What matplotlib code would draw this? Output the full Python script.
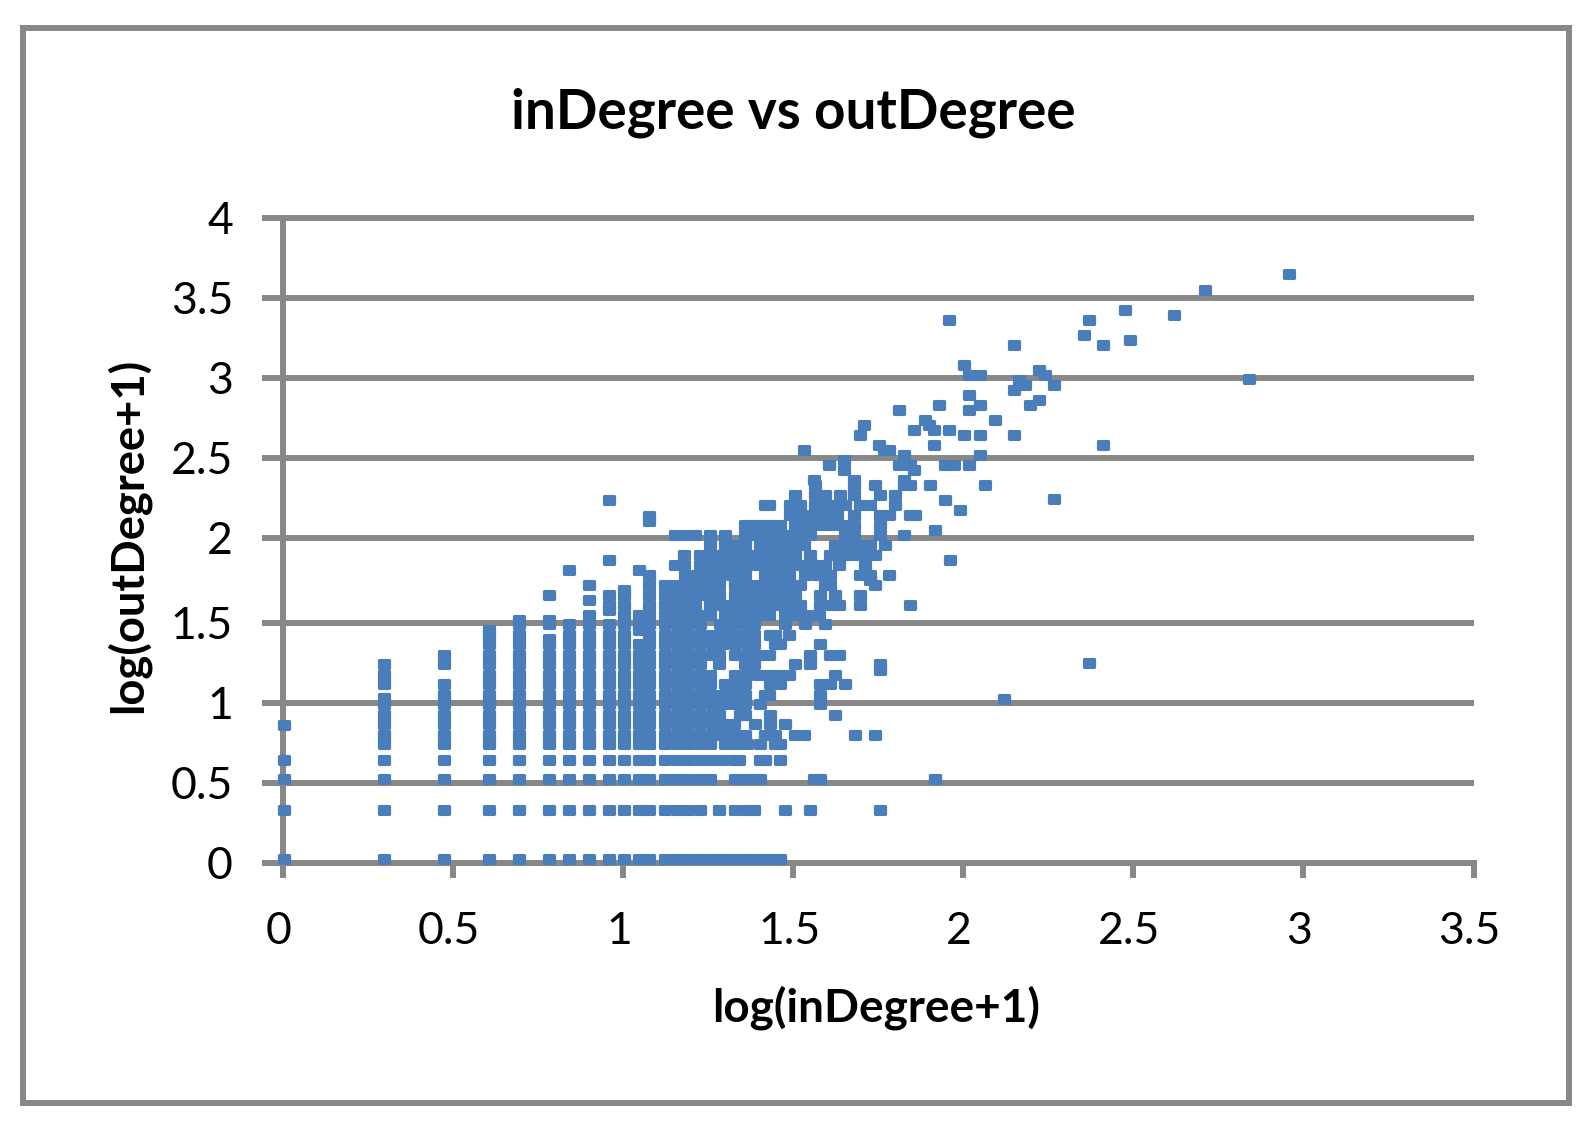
import numpy as np
import matplotlib
matplotlib.use("Agg")
import matplotlib.pyplot as plt
from matplotlib.path import Path
from matplotlib.patches import Rectangle
from matplotlib.transforms import ScaledTranslation

W, H = 1587, 1128
TITLE = "inDegree vs outDegree"
X_LABEL = "log(inDegree+1)"
Y_LABEL = "log(outDegree+1)"
x_ticks = [0, 0.5, 1, 1.5, 2, 2.5, 3, 3.5]
x_tick_labels = ["0", "0.5", "1", "1.5", "2", "2.5", "3", "3.5"]
y_ticks = [0, 0.5, 1, 1.5, 2, 2.5, 3, 3.5, 4]
y_tick_labels = ["0", "0.5", "1", "1.5", "2", "2.5", "3", "3.5", "4"]

# vertical columns at low inDegree: (x, y values)
col_x = [0.003, 0.297, 0.474, 0.606, 0.694, 0.782, 0.841, 0.9, 0.959, 1.003, 1.047, 1.076]
col_y = [
    [0.02, 0.33, 0.52, 0.64, 0.86],
    [0.02, 0.33, 0.52, 0.64, 0.738, 0.8, 0.863, 0.925, 0.988, 1.03, 1.113, 1.175, 1.238],
    [0.02, 0.33, 0.52, 0.64, 0.738, 0.8, 0.863, 0.925, 0.988, 1.05, 1.113, 1.238, 1.3],
    [0.02, 0.33, 0.52, 0.64, 0.738, 0.8, 0.863, 0.925, 0.988, 1.05, 1.113, 1.175, 1.238, 1.3, 1.363, 1.425, 1.456],
    [0.02, 0.33, 0.52, 0.64, 0.738, 0.8, 0.863, 0.925, 0.988, 1.05, 1.113, 1.175, 1.238, 1.3, 1.363, 1.425, 1.488, 1.514],
    [0.02, 0.33, 0.52, 0.64, 0.738, 0.8, 0.863, 0.925, 0.988, 1.05, 1.113, 1.175, 1.238, 1.3, 1.363, 1.394, 1.488, 1.514, 1.662],
    [0.02, 0.33, 0.52, 0.64, 0.738, 0.8, 0.863, 0.925, 0.988, 1.05, 1.113, 1.175, 1.238, 1.3, 1.363, 1.425, 1.488, 1.809],
    [0.02, 0.33, 0.52, 0.64, 0.738, 0.8, 0.863, 0.925, 0.988, 1.05, 1.113, 1.175, 1.238, 1.3, 1.363, 1.425, 1.488, 1.544, 1.632, 1.72],
    [0.02, 0.33, 0.52, 0.64, 0.738, 0.8, 0.863, 0.925, 0.988, 1.05, 1.113, 1.175, 1.238, 1.3, 1.363, 1.425, 1.488, 1.573, 1.603, 1.662, 1.867, 2.234],
    [0.02, 0.33, 0.52, 0.64, 0.738, 0.8, 0.863, 0.925, 0.988, 1.05, 1.113, 1.175, 1.238, 1.3, 1.363, 1.425, 1.488, 1.544, 1.603, 1.662, 1.691],
    [0.02, 0.33, 0.52, 0.64, 0.738, 0.8, 0.863, 0.925, 0.988, 1.05, 1.113, 1.175, 1.238, 1.3, 1.363, 1.456, 1.488, 1.544, 1.809],
    [0.02, 0.33, 0.52, 0.64, 0.738, 0.8, 0.863, 0.925, 0.988, 1.05, 1.113, 1.175, 1.238, 1.3, 1.363, 1.425, 1.488, 1.544, 1.603, 1.662, 1.72, 1.779, 2.103, 2.132],
]

# horizontal rows of the dense body: (y, x values)
row_y = [0.02, 0.33, 0.52, 0.64, 0.738, 0.8, 0.863, 0.925, 0.988, 1.05, 1.113, 1.175, 1.238, 1.3,
         1.363, 1.425, 1.488, 1.544, 1.603, 1.662, 1.72, 1.779, 1.838, 1.897, 1.956, 2.015, 2.078,
         2.14, 2.203, 2.265, 2.328]
row_x = [
    [1.124, 1.158, 1.192, 1.226, 1.261, 1.295, 1.329, 1.364, 1.398, 1.432, 1.46],
    [1.124, 1.158, 1.192, 1.225, 1.283, 1.329, 1.364, 1.386, 1.476, 1.548, 1.754],
    [1.124, 1.158, 1.192, 1.226, 1.254, 1.329, 1.357, 1.388, 1.403, 1.562, 1.579, 1.917],
    [1.124, 1.158, 1.192, 1.226, 1.261, 1.295, 1.329, 1.342, 1.403, 1.418, 1.46],
    [1.124, 1.158, 1.192, 1.226, 1.254, 1.3, 1.329, 1.364, 1.401, 1.447, 1.46],
    [1.124, 1.158, 1.192, 1.226, 1.261, 1.295, 1.329, 1.357, 1.418, 1.445, 1.506, 1.533, 1.682, 1.741],
    [1.124, 1.158, 1.192, 1.226, 1.261, 1.295, 1.327, 1.388, 1.432, 1.476],
    [1.124, 1.158, 1.192, 1.226, 1.261, 1.283, 1.344, 1.357, 1.432, 1.624],
    [1.124, 1.158, 1.192, 1.226, 1.261, 1.295, 1.329, 1.357, 1.403, 1.579],
    [1.124, 1.158, 1.192, 1.226, 1.261, 1.295, 1.329, 1.357, 1.418, 1.43, 1.579],
    [1.124, 1.158, 1.192, 1.226, 1.254, 1.3, 1.329, 1.357, 1.432, 1.46, 1.579, 1.609, 1.651],
    [1.124, 1.158, 1.192, 1.226, 1.254, 1.329, 1.364, 1.398, 1.432, 1.467, 1.489, 1.622],
    [1.124, 1.158, 1.192, 1.225, 1.283, 1.359, 1.386, 1.506, 1.548, 1.754],
    [1.124, 1.158, 1.192, 1.226, 1.261, 1.283, 1.329, 1.364, 1.398, 1.43, 1.548, 1.609, 1.636],
    [1.124, 1.158, 1.192, 1.226, 1.261, 1.295, 1.329, 1.364, 1.386, 1.447, 1.46, 1.579],
    [1.124, 1.158, 1.192, 1.226, 1.261, 1.295, 1.329, 1.364, 1.386, 1.432, 1.445, 1.489],
    [1.124, 1.158, 1.192, 1.225, 1.285, 1.32, 1.354, 1.386, 1.475, 1.535, 1.592],
    [1.124, 1.158, 1.192, 1.226, 1.254, 1.3, 1.329, 1.364, 1.398, 1.43, 1.476, 1.511, 1.545, 1.577],
    [1.124, 1.158, 1.192, 1.212, 1.256, 1.29, 1.325, 1.359, 1.393, 1.427, 1.462, 1.496, 1.519, 1.579, 1.614, 1.636, 1.695, 1.842],
    [1.124, 1.158, 1.192, 1.226, 1.261, 1.283, 1.329, 1.364, 1.398, 1.432, 1.467, 1.504, 1.579, 1.622, 1.695],
    [1.124, 1.158, 1.192, 1.226, 1.261, 1.283, 1.329, 1.364, 1.398, 1.432, 1.467, 1.501, 1.519, 1.594, 1.607, 1.739],
    [1.182, 1.217, 1.251, 1.285, 1.32, 1.357, 1.418, 1.452, 1.489, 1.535, 1.57, 1.607, 1.695, 1.725, 1.783],
    [1.153, 1.18, 1.226, 1.261, 1.295, 1.329, 1.364, 1.398, 1.432, 1.467, 1.501, 1.535, 1.57, 1.592, 1.636, 1.71],
    [1.18, 1.226, 1.261, 1.295, 1.329, 1.364, 1.398, 1.432, 1.467, 1.504, 1.548, 1.609, 1.643, 1.677, 1.712, 1.739],
    [1.254, 1.3, 1.329, 1.357, 1.403, 1.437, 1.472, 1.506, 1.533, 1.624, 1.658, 1.692, 1.726, 1.769],
    [1.153, 1.18, 1.212, 1.254, 1.298, 1.359, 1.393, 1.427, 1.462, 1.496, 1.53, 1.548, 1.653, 1.68, 1.754, 1.827],
    [1.357, 1.386, 1.408, 1.432, 1.46, 1.506, 1.54, 1.575, 1.609, 1.643, 1.68, 1.754],
    [1.491, 1.525, 1.56, 1.594, 1.628, 1.68, 1.754, 1.783, 1.842, 1.857],
    [1.418, 1.43, 1.491, 1.519, 1.565, 1.599, 1.633, 1.651, 1.697, 1.725, 1.8],
    [1.506, 1.565, 1.592, 1.638, 1.68, 1.754, 1.798],
    [1.565, 1.68, 1.739, 1.827, 1.842, 1.901, 2.063],
]

# scattered points at the upper right and the outliers
extra_x = [1.959, 2.371, 2.356, 2.15, 2.41, 2.003, 2.018, 2.048, 2.224, 2.239, 2.165, 2.18, 2.15, 2.268,
           2.018, 2.048, 2.018, 1.93, 1.812, 2.224, 2.195, 2.092, 1.886, 1.9, 1.915, 1.856, 1.959,
           2.003, 2.048, 2.15, 1.709, 1.695, 1.753, 1.768, 1.783, 1.915, 2.41, 1.533, 1.827, 2.048,
           1.65, 1.606, 1.65, 1.812, 1.842, 1.856, 1.945, 1.974, 2.018, 1.562, 1.68, 1.827,
           2.957, 2.71, 2.474, 2.62, 2.49, 2.84, 2.266, 2.37, 2.12,
           1.916, 1.96, 1.989, 1.945, 1.754, 1.725, 1.917]
extra_y = [3.36, 3.36, 3.266, 3.203, 3.203, 3.078, 3.016, 3.016, 3.047, 3.016, 2.984, 2.953, 2.922, 2.953,
           2.891, 2.828, 2.797, 2.828, 2.797, 2.859, 2.828, 2.734, 2.734, 2.703, 2.672, 2.672, 2.672,
           2.641, 2.641, 2.641, 2.703, 2.641, 2.578, 2.547, 2.547, 2.578, 2.578, 2.547, 2.516, 2.516,
           2.484, 2.453, 2.422, 2.453, 2.453, 2.422, 2.453, 2.453, 2.453, 2.359, 2.359, 2.359,
           3.645, 3.544, 3.424, 3.392, 3.234, 2.988, 2.241, 1.244, 1.023,
           2.047, 1.867, 2.172, 2.234, 1.206, 1.75, 0.52]

C_GRID = "#888888"
C_MARK = "#4A7EBB"
C_TEXT = "#000000"
FONT = "Lato"

xs = []
ys = []
for x, vals in zip(col_x, col_y):
    xs += [x] * len(vals)
    ys += vals
for y, vals in zip(row_y, row_x):
    xs += vals
    ys += [y] * len(vals)
xs += extra_x
ys += extra_y

# the reference's y axis has an uneven band between 1.5 and 2
y_knots = [0, 1.5, 2, 4]
y_pix = [0, 240, 325, 645]


def fwd(v):
    return np.interp(v, y_knots, y_pix)


def inv(v):
    return np.interp(v, y_pix, y_knots)


plt.rcParams["font.family"] = [FONT, "DejaVu Sans"]
fig = plt.figure(figsize=(W / 100, H / 100), dpi=100, facecolor="white")
fig.add_artist(Rectangle((23 / W, 1 - 1103 / H), (1569 - 23) / W, (1103 - 28) / H,
                         transform=fig.transFigure, fill=False, ec=C_GRID, lw=4.3))
ax = fig.add_axes([283 / W, 1 - 862.5 / H, (1473.5 - 283) / W, (862.5 - 217.5) / H])
ax.set_yscale("function", functions=(fwd, inv))
ax.set_xlim(0, 3.5)
ax.set_ylim(0, 4)
ax.set_xticks(x_ticks, x_tick_labels)
ax.set_yticks(y_ticks, y_tick_labels)
ax.minorticks_off()
ax.grid(axis="y", color=C_GRID, lw=4.3, zorder=1)
ax.set_axisbelow(True)
for gl in ax.get_ygridlines():
    gl.set_clip_on(False)
    gl.set_solid_capstyle("butt")
for s in ("top", "right"):
    ax.spines[s].set_visible(False)
for s in ("left", "bottom"):
    ax.spines[s].set_color(C_GRID)
    ax.spines[s].set_linewidth(4.3)
ax.tick_params(axis="x", color=C_GRID, width=4.3, length=11, labelsize=32, pad=24, labelcolor=C_TEXT)
ax.tick_params(axis="y", color=C_GRID, width=4.3, length=15, labelsize=32, pad=21, labelcolor=C_TEXT)
offset = ScaledTranslation(-4 / 100, 0, fig.dpi_scale_trans)
for lab in ax.get_xticklabels():
    lab.set_transform(lab.get_transform() + offset)

mk = Path([(-1, -0.66), (-0.82, -0.84), (0.82, -0.84), (1, -0.66), (1, 0.68), (0.84, 0.84), (-0.84, 0.84), (-1, 0.68), (-1, -0.66)],
          closed=True)
ax.plot(xs, ys, ls="none", marker=mk, ms=9.5, mew=0, color=C_MARK, clip_on=False, zorder=5)

fig.text(793 / W, 1 - 113 / H, TITLE, ha="center", va="center", fontsize=39.4, fontweight="bold", color=C_TEXT)
fig.text(876 / W, 1 - 1008 / H, X_LABEL, ha="center", va="center", fontsize=33, fontweight="bold", color=C_TEXT)
fig.text(128 / W, 1 - 535 / H, Y_LABEL, ha="center", va="center", rotation=90, fontsize=32.7, fontweight="bold", color=C_TEXT)
fig.savefig("out.png", dpi=100)
